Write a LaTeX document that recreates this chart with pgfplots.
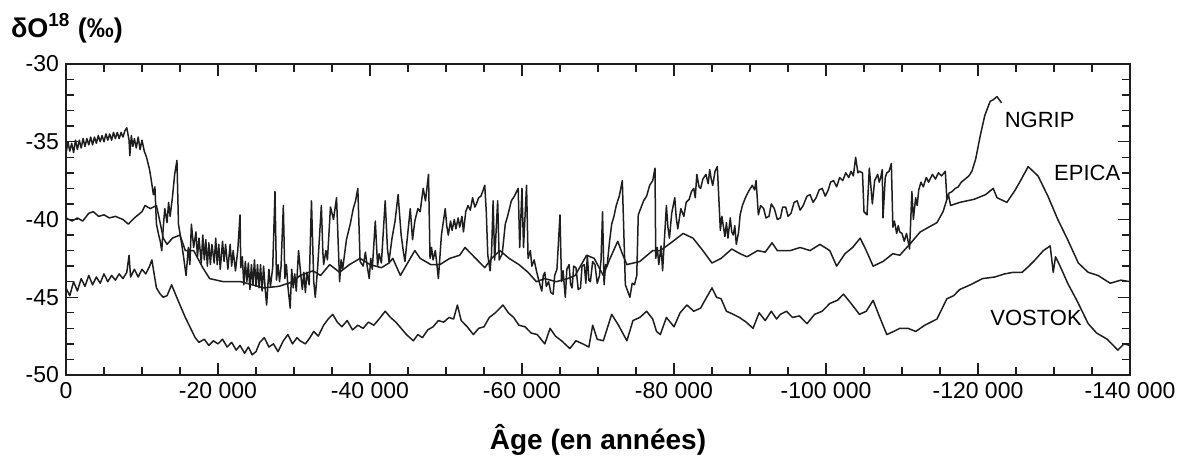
\documentclass[border=0pt]{standalone}
\usepackage{pgfplots}
\pgfplotsset{compat=1.18}
\usepackage{fontspec}
\setmainfont{Liberation Sans}
\definecolor{ink}{HTML}{1E1E1E}
\begin{document}
\begin{tikzpicture}
\begin{axis}[
  scale only axis, width=532pt, height=155.5pt,
  x dir=reverse, xmin=-140000, xmax=0, ymin=-50, ymax=-30,
  scaled x ticks=false, scaled y ticks=false,
  xtick={0,-20000,-40000,-60000,-80000,-100000,-120000,-140000},
  xticklabels={0,-20~000,-40~000,-60~000,-80~000,-100~000,-120~000,-140~000},
  minor x tick num=3,
  ytick={-50,-45,-40,-35,-30},
  yticklabels={-50,-45,-40,-35,-30},
  minor y tick num=4,
  major tick length=6pt, minor tick length=4pt,
  tick align=inside,
  tick style={ink, line width=0.7pt},
  axis line style={ink, line width=0.8pt},
  ticklabel style={font=\fontsize{11.5}{13}\selectfont, text=black},
  /pgf/number format/assume math mode=true,
  clip=false,
]
% NGRIP
\addplot[ink, line width=0.75pt, no markers, line join=round] table {
x y
0 -35.8
-250 -35.0
-500 -35.6
-750 -35.1
-1000 -35.7
-1250 -34.9
-1500 -35.5
-1750 -34.9
-2000 -35.4
-2250 -34.8
-2500 -35.3
-2750 -34.8
-3000 -35.2
-3250 -34.7
-3500 -35.2
-3750 -34.7
-4000 -35.1
-4250 -34.6
-4500 -35.0
-4750 -34.6
-5000 -35.0
-5250 -34.5
-5500 -34.9
-5750 -34.5
-6000 -34.9
-6250 -34.4
-6500 -34.8
-6750 -34.4
-7000 -34.8
-7250 -34.4
-7500 -34.7
-7750 -34.3
-8000 -34.1
-8300 -34.9
-8400 -35.9
-8600 -34.6
-8800 -35.3
-9000 -34.8
-9250 -35.4
-9500 -34.7
-9750 -35.5
-10000 -34.9
-10300 -35.6
-10600 -36.0
-11000 -36.8
-11200 -37.4
-11500 -38.4
-11700 -37.9
-11900 -40.3
-12200 -41.0
-12400 -41.4
-12600 -42.0
-12800 -40.5
-13000 -39.3
-13300 -40.2
-13500 -38.9
-13700 -39.8
-14000 -38.6
-14300 -37.1
-14600 -36.2
-14800 -40.3
-15200 -41.5
-15500 -42.5
-15800 -43.6
-16100 -41.8
-16300 -42.9
-16500 -40.3
-16800 -41.8
-17100 -40.8
-17300 -42.4
-17500 -41.2
-17800 -42.8
-18000 -41.0
-18200 -42.6
-18400 -41.3
-18600 -43.0
-18800 -41.5
-19000 -42.9
-19200 -41.6
-19500 -42.8
-19700 -41.2
-19900 -42.9
-20100 -41.6
-20300 -43.2
-20600 -41.4
-20800 -42.7
-21000 -41.6
-21300 -43.2
-21600 -41.6
-21800 -43.0
-22000 -42.0
-22300 -43.3
-22600 -42.0
-22900 -39.7
-23000 -43.1
-23200 -42.4
-23400 -44.2
-23600 -42.7
-23800 -44.0
-24000 -42.8
-24200 -44.5
-24400 -42.9
-24600 -44.2
-24800 -42.6
-25000 -44.3
-25200 -42.9
-25400 -44.4
-25600 -42.9
-25800 -44.6
-26000 -43.0
-26200 -44.4
-26400 -45.5
-26700 -43.2
-26900 -44.3
-27200 -43.1
-27500 -38.2
-27700 -43.9
-27900 -42.9
-28100 -44.0
-28300 -43.0
-28600 -39.1
-28800 -43.8
-29000 -42.9
-29200 -44.3
-29500 -45.7
-29700 -43.2
-29900 -44.4
-30100 -43.5
-30300 -44.6
-30600 -42.0
-30900 -43.6
-31100 -44.5
-31300 -43.4
-31500 -44.7
-31700 -43.4
-32000 -44.2
-32300 -38.8
-32600 -44.0
-32800 -45.0
-33100 -43.2
-33600 -39.1
-33800 -42.1
-33900 -42.9
-34200 -42.0
-34400 -42.6
-34800 -39.2
-35200 -40.0
-35600 -38.6
-36000 -44.0
-36200 -42.6
-36400 -43.2
-36900 -41.3
-37400 -40.3
-37800 -39.3
-38100 -38.8
-38400 -38.0
-38700 -42.7
-39100 -43.0
-39400 -42.1
-39600 -42.9
-39900 -43.8
-40100 -42.5
-40300 -43.2
-40700 -40.1
-41000 -43.0
-41200 -42.2
-41500 -42.8
-42000 -38.8
-42300 -41.9
-42500 -42.7
-42900 -41.2
-43300 -40.1
-43700 -38.4
-44100 -41.0
-44400 -42.1
-44600 -42.7
-45300 -39.3
-45600 -41.3
-45900 -40.1
-46300 -39.3
-46600 -39.5
-47000 -38.0
-47300 -38.8
-47700 -37.1
-47900 -42.5
-48100 -41.8
-48300 -42.6
-48600 -42.0
-49000 -43.8
-49400 -41.0
-49900 -39.3
-50100 -40.4
-50300 -41.0
-50600 -40.1
-50800 -40.7
-51100 -40.0
-51300 -40.6
-51600 -39.9
-51800 -40.5
-52100 -39.8
-52300 -40.8
-52600 -39.5
-52900 -39.1
-53200 -39.4
-53500 -38.6
-53800 -39.2
-54000 -39.0
-54300 -38.6
-54600 -38.5
-54900 -38.1
-55100 -37.8
-55300 -39.5
-55500 -42.3
-55800 -43.3
-56000 -42.1
-56200 -38.8
-56400 -42.6
-56800 -38.8
-57000 -42.6
-57400 -42.2
-57800 -40.3
-58100 -39.8
-58600 -38.8
-59000 -38.5
-59500 -38.0
-59700 -41.8
-60000 -38.0
-60200 -41.8
-60600 -37.8
-60800 -42.5
-61100 -42.0
-61300 -43.0
-61600 -42.6
-61900 -43.3
-62200 -43.9
-62600 -44.6
-62800 -43.6
-63000 -43.4
-63200 -44.3
-63500 -44.0
-63800 -44.7
-64100 -44.8
-64300 -43.6
-64600 -43.2
-65000 -39.7
-65200 -44.0
-65400 -43.3
-65700 -45.0
-65900 -43.2
-66200 -42.9
-66400 -44.2
-66600 -44.4
-66800 -43.0
-67100 -43.1
-67400 -44.5
-67700 -44.4
-67900 -43.0
-68200 -42.9
-68400 -44.1
-68600 -42.3
-68800 -43.9
-69000 -44.0
-69300 -42.7
-69600 -42.9
-69900 -44.1
-70200 -43.6
-70400 -42.6
-70600 -39.5
-70800 -44.2
-71000 -42.9
-71200 -43.0
-71500 -41.5
-71800 -40.3
-72100 -39.8
-72400 -39.1
-72800 -38.5
-73200 -37.5
-73600 -44.2
-73900 -44.6
-74200 -45.0
-74500 -44.1
-74800 -44.2
-75100 -43.6
-75300 -39.7
-76000 -38.8
-76400 -38.5
-76800 -37.8
-77200 -37.5
-77500 -36.7
-77600 -42.5
-77800 -41.8
-78000 -42.9
-78300 -41.7
-78500 -43.3
-79000 -39.1
-79200 -40.5
-79400 -41.2
-79700 -39.6
-80100 -38.6
-80300 -39.9
-80500 -40.6
-80900 -39.3
-81300 -39.8
-81600 -38.9
-82000 -38.7
-82300 -38.2
-82600 -38.0
-82800 -38.6
-83000 -37.1
-83300 -37.9
-83500 -38.0
-83800 -37.4
-84200 -37.1
-84500 -37.7
-84700 -36.8
-84900 -37.4
-85100 -37.8
-85400 -36.9
-85700 -36.6
-86100 -40.7
-86300 -39.8
-86700 -41.1
-86900 -40.2
-87100 -41.2
-87400 -39.9
-87600 -40.8
-87800 -41.0
-88000 -40.4
-88200 -41.6
-88500 -40.8
-88700 -39.7
-89000 -39.1
-89400 -38.6
-89800 -38.2
-90300 -37.8
-90600 -38.1
-90800 -37.5
-91100 -39.7
-91400 -39.1
-91800 -39.3
-92100 -39.9
-92500 -39.8
-92800 -39.0
-93200 -39.3
-93600 -40.0
-94000 -39.9
-94300 -39.2
-94700 -39.2
-95000 -39.8
-95400 -39.6
-95800 -38.9
-96200 -38.8
-96600 -39.4
-97000 -39.1
-97500 -38.5
-97900 -38.4
-98300 -38.9
-98700 -38.6
-99100 -38.1
-99500 -38.0
-99900 -38.5
-100300 -38.1
-100600 -37.6
-101000 -37.5
-101400 -37.9
-101800 -37.3
-102200 -37.5
-102600 -37.0
-103000 -37.3
-103300 -36.9
-103600 -37.2
-103900 -36.0
-104200 -37.0
-104400 -36.9
-104800 -37.0
-105000 -39.5
-105400 -39.7
-105700 -36.7
-106100 -39.0
-106400 -37.5
-106800 -37.1
-107000 -37.6
-107200 -37.3
-107400 -36.8
-107500 -39.9
-107800 -37.3
-108000 -37.0
-108300 -36.9
-108600 -36.4
-108800 -40.5
-109000 -40.1
-109300 -40.9
-109500 -40.4
-109700 -40.8
-110000 -40.9
-110300 -41.4
-110600 -40.9
-111000 -41.9
-111300 -38.2
-111500 -40.0
-111600 -39.5
-111800 -38.6
-112000 -39.1
-112200 -38.1
-112500 -37.6
-112800 -37.9
-113200 -37.3
-113500 -37.6
-114000 -37.1
-114400 -37.4
-114800 -37.0
-115200 -37.2
-115700 -36.9
-115900 -38.7
-116200 -38.3
-116600 -38.2
-117000 -38.0
-117400 -37.9
-117800 -37.6
-118300 -37.4
-118800 -37.2
-119200 -36.9
-119700 -36.1
-120300 -34.6
-120900 -33.3
-121600 -32.4
-122000 -32.3
-122500 -32.1
-123100 -32.5
};
% EPICA
\addplot[ink, line width=0.75pt, no markers, line join=round] table {
x y
0 -39.9
-800 -40.1
-1500 -39.9
-2200 -40.1
-3000 -39.6
-3600 -39.5
-4300 -39.8
-5000 -39.7
-5700 -39.9
-6500 -39.8
-7500 -40.0
-8200 -40.3
-9000 -39.9
-10000 -39.5
-10400 -39.1
-11100 -39.3
-11900 -39.1
-12300 -40.0
-12800 -41.2
-13300 -41.6
-14000 -41.2
-15000 -41.0
-15700 -42.0
-16800 -42.0
-18000 -43.1
-18900 -43.8
-20700 -44.0
-23000 -44.0
-26000 -44.4
-28000 -44.3
-29900 -44.0
-30800 -43.6
-32500 -43.3
-33500 -43.6
-34700 -42.9
-36000 -43.4
-37300 -42.9
-38700 -42.5
-40000 -42.9
-41500 -43.1
-42500 -42.8
-43000 -42.5
-44000 -43.6
-45300 -42.5
-45900 -42.0
-46600 -42.5
-48000 -42.9
-49200 -42.9
-50500 -42.5
-51800 -42.3
-52500 -41.8
-53500 -42.3
-54300 -42.7
-55100 -43.1
-56000 -42.5
-57100 -42.0
-58300 -42.5
-59600 -42.9
-60800 -43.4
-61900 -44.0
-63000 -43.8
-64500 -44.0
-66000 -43.8
-67000 -43.6
-68500 -42.3
-69500 -42.5
-70700 -43.6
-71500 -42.6
-72600 -41.4
-73200 -42.2
-73800 -42.9
-75500 -42.7
-77200 -42.0
-78200 -42.0
-79600 -41.5
-81200 -40.9
-82500 -41.2
-83800 -42.0
-85000 -42.8
-86200 -42.5
-87600 -41.9
-88700 -42.2
-89600 -42.4
-91000 -42.0
-92000 -42.1
-92900 -41.5
-93600 -42.0
-95300 -42.0
-96600 -41.8
-97900 -42.0
-99200 -41.6
-100500 -42.0
-101400 -43.0
-102500 -42.2
-103500 -41.8
-104500 -41.2
-105300 -42.0
-106200 -43.0
-107500 -42.7
-108800 -42.2
-109700 -42.3
-111000 -41.6
-112400 -40.8
-114600 -40.2
-115400 -39.5
-116100 -38.4
-116400 -39.1
-117600 -38.9
-119500 -38.7
-121000 -38.4
-122000 -38.0
-122500 -38.6
-123800 -38.9
-124900 -38.1
-125600 -37.5
-126600 -36.6
-127900 -37.2
-129200 -38.5
-130500 -40.0
-131800 -41.3
-133200 -42.8
-134500 -43.4
-135800 -43.6
-137400 -44.1
-138800 -43.9
-140000 -44.0
};
% VOSTOK
\addplot[ink, line width=0.75pt, no markers, line join=round] table {
x y
0 -44.4
-500 -44.9
-1000 -44.0
-1500 -44.6
-2000 -43.8
-2500 -44.3
-3000 -43.6
-3500 -44.2
-4000 -43.7
-4500 -44.1
-5000 -43.5
-5500 -44.0
-6000 -43.6
-6500 -43.9
-7000 -43.5
-7500 -43.8
-8000 -43.4
-8300 -42.3
-8500 -43.7
-9000 -43.2
-9500 -43.7
-10000 -43.2
-10500 -43.5
-11000 -43.0
-11300 -42.6
-11900 -44.4
-12400 -44.8
-12800 -45.0
-13300 -44.9
-13900 -44.2
-14400 -44.8
-15000 -45.5
-15700 -46.3
-16300 -46.9
-17000 -47.6
-17500 -47.9
-18200 -47.7
-18800 -48.1
-19400 -47.8
-20000 -48.0
-20600 -47.7
-21200 -48.2
-21800 -47.9
-22400 -48.4
-22900 -48.1
-23500 -48.6
-24000 -48.2
-24500 -48.7
-25000 -48.5
-25500 -47.9
-26100 -47.6
-26700 -48.2
-27300 -48.0
-27900 -48.5
-28600 -47.8
-29200 -47.4
-29800 -48.0
-30400 -47.6
-30800 -47.8
-31500 -48.0
-32100 -47.6
-32600 -47.2
-33200 -47.5
-33900 -46.8
-34500 -46.4
-35100 -46.1
-35700 -46.6
-36300 -46.9
-37000 -46.5
-37700 -47.1
-38400 -46.8
-39100 -47.0
-39800 -46.6
-40500 -46.8
-41200 -46.4
-42000 -45.9
-42700 -46.3
-43400 -46.6
-44100 -47.0
-44800 -47.4
-45700 -47.8
-46300 -47.4
-46900 -47.6
-47600 -47.1
-48300 -46.9
-49000 -46.5
-49700 -46.6
-50400 -46.3
-51000 -46.4
-51500 -45.5
-52000 -46.5
-52800 -46.9
-53600 -47.4
-54300 -47.0
-55000 -46.9
-55700 -46.3
-56500 -46.0
-57500 -45.5
-58200 -46.0
-58900 -46.3
-59600 -46.8
-60400 -46.9
-61200 -47.3
-62000 -47.4
-63000 -48.0
-63700 -47.0
-64400 -47.5
-65200 -47.8
-66300 -48.3
-67100 -47.8
-68000 -48.0
-68800 -48.2
-69300 -46.8
-69900 -47.7
-70700 -47.8
-71800 -46.1
-72700 -46.8
-73800 -47.8
-74600 -46.5
-75500 -46.3
-76400 -45.9
-77200 -46.4
-77700 -47.2
-78200 -47.4
-79000 -46.3
-80000 -46.9
-80800 -46.0
-81700 -45.5
-82600 -45.9
-83500 -45.7
-84300 -45.0
-85000 -44.4
-85600 -45.0
-86200 -45.1
-86900 -45.9
-87800 -46.1
-88600 -46.3
-89500 -46.6
-90400 -47.0
-91200 -46.0
-92000 -46.5
-92800 -45.9
-93500 -46.4
-94000 -46.1
-94800 -45.9
-95600 -46.3
-96500 -46.2
-97500 -46.7
-98500 -46.1
-99500 -45.9
-100500 -45.4
-101500 -45.2
-102300 -44.8
-103300 -45.4
-104400 -46.1
-105300 -45.9
-106200 -45.2
-107000 -46.2
-108000 -47.4
-108900 -47.2
-109700 -47.0
-110800 -47.0
-111800 -47.2
-113000 -46.8
-114600 -46.4
-115400 -45.6
-115900 -45.1
-116800 -44.9
-117600 -44.5
-119000 -44.2
-120600 -43.8
-122200 -43.7
-123500 -43.5
-124600 -43.4
-125800 -43.4
-126700 -43.0
-127500 -42.6
-128600 -42.0
-129500 -41.7
-129900 -43.4
-130200 -42.4
-130800 -43.0
-131800 -44.1
-133000 -45.2
-134500 -46.7
-135600 -47.3
-137000 -47.7
-138400 -48.4
-139200 -48.0
-140000 -48.1
};
\node[anchor=west, font=\fontsize{11}{13}\selectfont] at (axis cs:-122600,-33.6) {NGRIP};
\node[anchor=west, font=\fontsize{11}{13}\selectfont] at (axis cs:-129100,-37.0) {EPICA};
\node[anchor=west, font=\fontsize{11}{13}\selectfont] at (axis cs:-120700,-46.3) {VOSTOK};
\end{axis}
\node[anchor=west, xshift=-31pt, yshift=18pt, font=\bfseries\fontsize{13.5}{15}\selectfont] at (current axis.north west) {δO\textsuperscript{18} (‰)};
\node[yshift=-32.5pt, font=\bfseries\fontsize{14}{16}\selectfont] at (current axis.south) {Âge (en années)};
\path (current axis.north west) ++(-33pt,32pt) coordinate (bbA);
\path (current axis.south east) ++(30.5pt,-43.5pt) coordinate (bbB);
\path (bbA) rectangle (bbB);
\end{tikzpicture}
\end{document}
